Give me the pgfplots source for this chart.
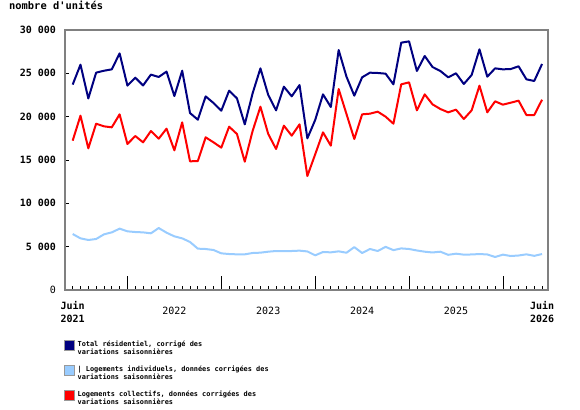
\documentclass[border=0pt]{standalone}
\usepackage{pgfplots}
\usepackage{pgfplotstable}
\pgfplotsset{compat=1.18}
\usepackage{fontspec}
\setmonofont{DejaVu Sans Mono}
\renewcommand*\familydefault{\ttdefault}
\definecolor{cTot}{RGB}{0,0,128}
\definecolor{cInd}{RGB}{153,204,255}
\definecolor{cCol}{RGB}{255,0,0}
\pgfplotstableread{
i tot ind col
0 23700 6460 17230
1 26000 5960 20115
2 22100 5770 16345
3 25080 5885 19190
4 25300 6420 18885
5 25460 6650 18770
6 27300 7080 20270
7 23580 6770 16845
8 24500 6690 17770
9 23600 6650 17040
10 24850 6540 18345
11 24580 7150 17460
12 25200 6615 18615
13 22380 6190 16115
14 25300 5960 19345
15 20420 5540 14845
16 19650 4770 14885
17 22340 4730 17615
18 21580 4615 17040
19 20690 4230 16425
20 23000 4150 18845
21 22115 4115 18000
22 19115 4115 14807
23 22690 4270 18345
24 25575 4307 21153
25 22500 4420 18000
26 20730 4500 16270
27 23460 4500 18960
28 22345 4500 17807
29 23650 4540 19115
30 17500 4450 13153
31 19615 4000 15653
32 22575 4385 18190
33 21115 4345 16653
34 27690 4460 23190
35 24615 4300 20307
36 22420 4950 17422
37 24540 4270 20268
38 25075 4730 20345
39 25040 4500 20576
40 24960 4980 20000
41 23730 4600 19190
42 28540 4800 23730
43 28690 4730 23960
44 25270 4560 20730
45 27000 4420 22575
46 25730 4330 21420
47 25270 4420 20885
48 24540 4060 20500
49 25000 4190 20807
50 23770 4080 19730
51 24810 4100 20730
52 27770 4150 23575
53 24615 4100 20500
54 25575 3810 21770
55 25460 4080 21384
56 25500 3920 21615
57 25810 3980 21845
58 24310 4115 20190
59 24115 3940 20190
60 26080 4150 21960
}\data
\begin{document}
\normalfont
\begin{tikzpicture}
\begin{axis}[
  at={(0,0)}, anchor=south west, scale only axis,
  width=483bp, height=260bp,
  xmin=-0.98, xmax=60.76, ymin=0, ymax=30000,
  scaled y ticks=false,
  axis line style={draw=gray, line width=1.6bp},
  tick style={draw=black, line width=0.7bp},
  tick align=inside,
  xtick pos=bottom, ytick pos=left,
  major tick length=14bp, minor tick length=4.5bp,
  xtick={7,19,31,43,55}, xticklabels={},
  minor xtick={0,...,60},
  extra x ticks={0,13,25,37,49,60},
  extra x tick labels={{\bfseries Juin\\\bfseries 2021},{\mbox{}\\2022},{\mbox{}\\2023},{\mbox{}\\2024},{\mbox{}\\2025},{\bfseries Juin\\\bfseries 2026}},
  extra x tick style={tick style={draw=none}},
  xticklabel style={align=center, font=\fontsize{10bp}{13bp}\selectfont, yshift=-8bp},
  ytick={0,5000,10000,15000,20000,25000,30000},
  yticklabels={{\mdseries 0},5 000,10 000,15 000,20 000,25 000,30 000},
  major y tick style={draw=none},
  minor ytick={5000,10000,15000,20000,25000},
  yticklabel style={font=\fontsize{10bp}{12bp}\selectfont\bfseries, xshift=-5.5bp},
  legend style={at={(0,0)}, anchor=north west, yshift=-50bp, xshift=-1bp, draw=none, fill=none,
    inner sep=0pt, row sep=8.4bp, column sep=2bp,
    font=\fontsize{6.9bp}{7bp}\selectfont\bfseries,
    nodes={inner sep=0.5bp}, cells={align=left}},
  legend cell align=left,
]
\addplot[cTot, line width=2bp, line join=round, forget plot] table[x=i,y=tot]{\data};
\addplot[cInd, line width=2bp, line join=round, forget plot] table[x=i,y=ind]{\data};
\addplot[cCol, line width=2bp, line join=round, forget plot] table[x=i,y=col]{\data};
\addlegendimage{legend image code/.code={\draw[fill=cTot,draw=gray!80,line width=0.9bp] (0bp,-2bp) rectangle (10bp,8bp);}}
\addlegendentry{Total résidentiel, corrigé des\\variations saisonnières}
\addlegendimage{legend image code/.code={\draw[fill=cInd,draw=gray!80,line width=0.9bp] (0bp,-2bp) rectangle (10bp,8bp);}}
\addlegendentry{| Logements individuels, données corrigées des\\variations saisonnières}
\addlegendimage{legend image code/.code={\draw[fill=cCol,draw=gray!80,line width=0.9bp] (0bp,-2bp) rectangle (10bp,8bp);}}
\addlegendentry{Logements collectifs, données corrigées des\\variations saisonnières}
\end{axis}
\node[anchor=base west, font=\fontsize{10.4bp}{12bp}\selectfont\bfseries, inner sep=0pt] at (-56bp,280.5bp) {nombre d'unités};
\pgfresetboundingbox
\path[use as bounding box] (-65bp,-120bp) rectangle (515bp,290bp);
\end{tikzpicture}
\end{document}
